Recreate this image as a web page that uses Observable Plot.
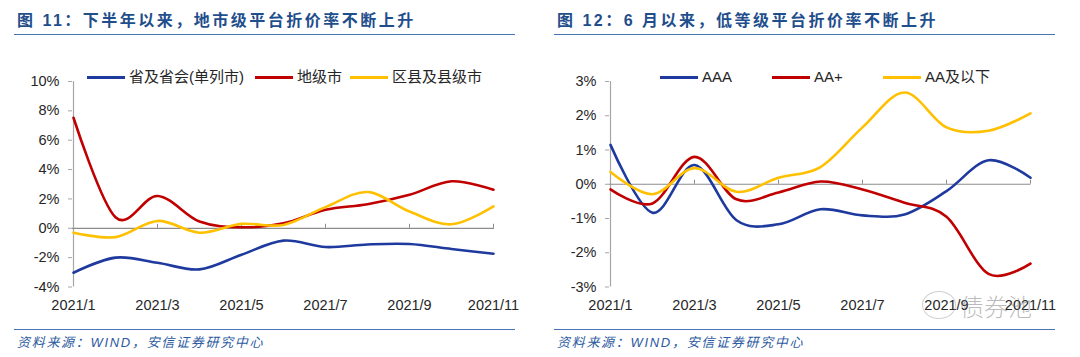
<!DOCTYPE html>
<html><head><meta charset="utf-8">
<script src="https://cdn.jsdelivr.net/npm/d3@7"></script>
<script src="https://cdn.jsdelivr.net/npm/@observablehq/plot@0.6"></script>
<style>
body{margin:0;background:#fff;}
#root{position:relative;width:1080px;height:357px;overflow:hidden;font-family:"Liberation Sans",Arial,"Noto Sans CJK SC",sans-serif;}
.title{position:absolute;top:10px;font-family:"Liberation Sans","Noto Sans CJK SC",sans-serif;font-weight:bold;font-size:16px;letter-spacing:2.5px;color:#1f4e8c;white-space:nowrap;line-height:22px;}
.rule{position:absolute;height:0;border-top:1.6px solid #4a75b5;}
.src{position:absolute;top:334px;font-size:13px;font-style:italic;letter-spacing:1.7px;color:#2c5aa0;white-space:nowrap;line-height:18px;font-family:"Liberation Sans","Noto Sans CJK SC",sans-serif;}
.chart{position:absolute;top:60px;}
.leg{position:absolute;top:67px;display:flex;align-items:center;font-size:15px;color:#262626;white-space:nowrap;line-height:20px;}
.leg span.sw{display:inline-block;width:38px;height:3px;margin-right:4px;}
.wm{position:absolute;left:960px;top:291px;font-size:24px;color:rgba(120,120,120,0.5);font-family:"Noto Sans CJK SC",sans-serif;font-weight:300;line-height:30px;}
.wmc{position:absolute;left:922px;top:291px;width:32px;height:26px;border:1.5px solid rgba(150,150,150,0.45);border-radius:50%;}
</style>
</head><body>
<div id="root"></div>
<script>
// ---- data ----
const months = ["2021/1","2021/2","2021/3","2021/4","2021/5","2021/6","2021/7","2021/8","2021/9","2021/10","2021/11"];
const tickMonths = ["2021/1","2021/3","2021/5","2021/7","2021/9","2021/11"];

// Figure 11
const leftNames = ["省及省会(单列市)","地级市","区县及县级市"];
const provincial = [-3.03,-2.0,-2.35,-2.8,-1.8,-0.84,-1.28,-1.1,-1.07,-1.41,-1.73];
const prefecture = [7.53,0.75,2.2,0.46,0.07,0.34,1.26,1.64,2.28,3.2,2.63];
const county = [-0.3,-0.6,0.5,-0.3,0.3,0.23,1.44,2.47,1.14,0.27,1.49];
const leftTicks = [-4,-2,0,2,4,6,8,10];

// Figure 12
const rightNames = ["AAA","AA+","AA及以下"];
const aaa = [1.15,-0.83,0.56,-1.05,-1.17,-0.73,-0.91,-0.88,-0.2,0.7,0.19];
const aaPlus = [-0.15,-0.56,0.8,-0.44,-0.24,0.08,-0.15,-0.54,-0.95,-2.62,-2.32];
const aaBelow = [0.36,-0.29,0.47,-0.22,0.19,0.5,1.66,2.68,1.66,1.56,2.07];
const rightTicks = [-3,-2,-1,0,1,2,3];

const colors = ["#1f3a9e","#c00000","#ffc000"];

const titles = ["图 11：下半年以来，地市级平台折价率不断上升","图 12：6 月以来，低等级平台折价率不断上升"];
const source = "资料来源：WIND，安信证券研究中心";

// ---- build ----
const root = document.getElementById("root");
function el(cls, text, style){const d=document.createElement("div");d.className=cls;if(text)d.textContent=text;Object.assign(d.style,style||{});root.appendChild(d);return d;}

function makeChart(names, seriesVals, ticks, domain, marginLeft, marginRight){
  const data = names.flatMap((n,k)=>seriesVals[k].map((v,i)=>({month:months[i], value:v, name:n})));
  return Plot.plot({
    width:540, height:260,
    marginTop:21, marginBottom:33.5, marginLeft, marginRight,
    style:{fontFamily:'"Liberation Sans",Arial,sans-serif', fontSize:"14.5px", color:"#262626", background:"transparent", overflow:"visible"},
    x:{type:"point", domain:months, padding:0, label:null},
    y:{domain, ticks, label:null},
    color:{domain:names, range:colors},
    marks:[
      Plot.ruleX([months[0]], {stroke:"#a6a6a6", strokeWidth:1.2}),
      Plot.ruleY([0], {stroke:"#8c8c8c", strokeWidth:1.2}),
      Plot.ruleX(tickMonths.slice(1), {x:d=>d, y1:()=>0, y2:()=>0, insetTop:-4, stroke:"#8c8c8c"}),
      Plot.axisY({ticks, tickSize:4, tickPadding:9, tickFormat:d=>d+"%", stroke:"#a6a6a6", fill:"#262626", label:null}),
      Plot.axisX({ticks:tickMonths, tickSize:0, tickPadding:13, anchor:"bottom", fill:"#262626", label:null}),
      Plot.line(data, {x:"month", y:"value", stroke:"name", strokeWidth:2.6, curve:"cardinal"})
    ]
  });
}

function panel(offset, title, names, vals, ticks, domain, mL, mR, legendPos){
  el("title", title, {left:(offset+17)+"px"});
  el("rule", null, {left:(offset+14)+"px", width:"501px", top:"34px"});
  el("rule", null, {left:(offset+14)+"px", width:"501px", top:"329px"});
  el("src", source, {left:(offset+17)+"px"});
  const c = el("chart", null, {left:offset+"px"});
  c.appendChild(makeChart(names, vals, ticks, domain, mL, mR));
  names.forEach((n,k)=>{
    const d = el("leg", null, {left:legendPos[k]+"px"});
    const sw = document.createElement("span"); sw.className="sw"; sw.style.background=colors[k];
    const t = document.createElement("span"); t.textContent=n;
    d.appendChild(sw); d.appendChild(t);
  });
}

panel(0, titles[0], leftNames, [provincial, prefecture, county], leftTicks, [-4,10], 72, 46, [87,255,350]);
panel(540, titles[1], rightNames, [aaa, aaPlus, aaBelow], rightTicks, [-3,3], 69, 49.5, [660,772,883]);

el("wmc");
el("wm", "债券池");
</script>
</body></html>
